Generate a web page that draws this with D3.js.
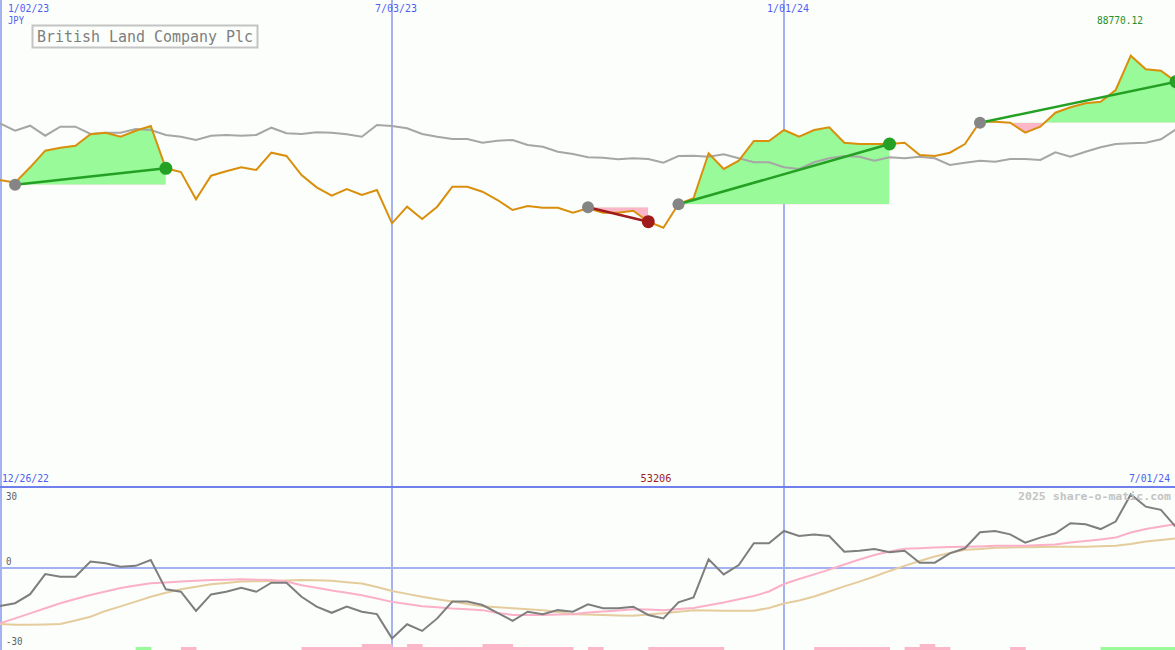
<!DOCTYPE html>
<html><head><meta charset="utf-8">
<script src="https://cdn.jsdelivr.net/npm/d3@7"></script>
<style>html,body{margin:0;padding:0;background:#fbfefb;overflow:hidden}</style>
</head><body>
<svg id="c" width="1175" height="650"></svg>
<script>
// ---- data (weekly, index 0 = first week) ----
const price = [720,717.3,732.7,749.3,752.3,754.3,765.7,767.3,763.3,769.3,774,731.7,728,700.7,724.3,728.7,732.7,730,747.3,744,
725,712.7,704.3,711,705,710,676.7,693.3,681,693.3,713.3,713.3,708.3,700,690,694,692.3,692.3,687.3,691.7,
687.3,687.3,689.3,678.3,672.3,696,701.7,746.7,731,739.3,759,759,770,763.3,770,772.7,757.3,756,756,756,
757.3,745,744,747.3,756,778.3,778.3,777.3,767.3,773.3,787.3,792.7,796.7,798.3,810,844.3,830.7,829.3,818.3];
const bench = [776.7,769.3,774.3,764.3,773.3,773.3,766,767.3,767.3,771,770,765,763.3,760,764.3,765,764.3,765,772.3,766.7,
766,767.7,767.3,765.7,763.3,775,774,771.7,766,763.3,761,761,757.3,759.3,760,755,753.3,748.3,746,742.7,
742.3,740.7,741.7,741,737.3,744,744.3,743.3,745.7,741.7,737.7,737.7,732.7,731,737.7,741.7,744,743.3,739.3,742.7,
741.7,743.3,741.7,735,737.3,739.3,738.3,741,741,740,747.7,743.3,748.3,752.7,756,756.7,757.3,760.7,770.7];
const osc = [-14.3,-13.2,-9.8,-2.3,-3.3,-3.3,2.4,1.8,0.5,0.8,3.0,-8.0,-8.9,-16.1,-9.9,-8.9,-7.4,-8.9,-5.5,-5.5,
-10.8,-14.5,-16.8,-14.5,-16.4,-17.3,-26.4,-21.1,-23.6,-18.9,-12.6,-12.6,-13.9,-16.8,-19.8,-16.4,-17.3,-15.8,-16.4,-13.6,
-15.1,-15.1,-14.5,-17.6,-18.9,-12.9,-11.0,3.3,-2.4,1.1,9.3,9.3,13.9,12.0,12.6,12.0,6.1,6.5,7.1,5.9,
6.5,2.0,2.0,5.5,7.4,13.4,13.9,12.6,9.5,11.4,13.0,16.8,16.4,14.6,17.4,27.6,23.0,21.8,15.3];
const oscFast = [-20.7,-18.9,-17.0,-15.1,-13.2,-11.6,-10.1,-8.8,-7.5,-6.6,-5.7,-5.4,-5.1,-4.8,-4.5,-4.4,-4.2,-4.4,-4.5,-5.1,
-6.5,-7.4,-8.4,-9.3,-10.2,-11.4,-12.7,-13.5,-14.3,-14.7,-15.2,-15.5,-15.8,-16.9,-17.6,-17.6,-17.6,-17.4,-17.3,-16.7,
-16.3,-15.9,-15.5,-15.6,-15.8,-15.4,-15.0,-14.0,-12.9,-11.7,-10.5,-8.8,-6.0,-4.1,-2.4,-0.6,1.3,3.2,4.9,6.2,
7.2,7.4,7.7,7.9,8.0,8.1,8.3,8.3,8.3,8.6,8.8,9.6,10.1,10.7,11.4,13.3,14.6,15.6,16.5];
const oscSlow = [-21.0,-21.3,-21.3,-21.2,-21.0,-19.7,-18.3,-16.1,-14.4,-12.6,-10.8,-9.3,-8.0,-7.0,-6.1,-5.6,-5.1,-5.0,-4.9,-4.7,
-4.5,-4.6,-4.8,-5.3,-5.8,-7.1,-8.6,-9.7,-10.8,-11.7,-12.6,-13.5,-14.3,-14.7,-15.1,-15.5,-15.8,-16.5,-17.3,-17.4,
-17.6,-17.8,-17.9,-17.4,-17.0,-16.4,-15.8,-15.9,-16.0,-16.0,-16.0,-15.0,-13.3,-12.2,-10.7,-8.8,-6.9,-5.1,-3.2,-1.1,
0.8,2.6,4.3,5.6,6.8,7.1,7.6,7.7,7.8,7.9,8.0,8.0,8.0,8.2,8.3,9.0,9.9,10.5,11.1];
const signal = [0,0,0,0,0,0,0,0,0,1,0,0,-1,0,0,0,0,0,0,0,
-1,-1,-1,-1,-2,-2,-1,-2,-1,-1,-1,-1,-2,-2,-1,-1,-1,-1,0,-1,
0,0,0,-1,-1,-1,-1,-1,0,0,0,0,0,0,-1,-1,-1,-1,-1,0,
-1,-2,-1,0,0,0,0,-1,0,0,0,0,0,1,1,1,1,1,0];
const tradeStart = [1,39,45,65];
const tradeEnd   = [11,43,59,78];
const tradeLevel = [715.3,692.7,695.7,777.3];
const gridIdx    = [26,52];
const topLabels  = ["1/02/23","7/03/23","1/01/24"];
const topLabelIdx= [0,26,52];
const oscTicks   = [30,0,-30];

// ---- drawing ----
const W=1175,H=650;
const svg=d3.select('#c');
const BG='#fbfefb';
svg.append('rect').attr('width',W).attr('height',H).attr('fill',BG);
const x=d3.scaleLinear().domain([0,78]).range([0,1176]);
const y=d3.scaleLinear().domain([413,900]).range([487,0]);
const yo=d3.scaleLinear().domain([-30,30]).range([648,488]);
const yb=d3.scaleLinear().domain([0,2]).range([650,644]);
const MONO='"DejaVu Sans Mono","Liberation Mono",monospace';

const defs=svg.append('defs');
defs.append('clipPath').attr('id','mainClip').append('rect').attr('x',0).attr('y',0).attr('width',W).attr('height',487);
defs.append('clipPath').attr('id','lowClip').append('rect').attr('x',0).attr('y',488).attr('width',W).attr('height',162);

// grid
const grid=svg.append('g');
grid.selectAll('line.v').data(gridIdx).join('line')
  .attr('x1',d=>x(d)).attr('x2',d=>x(d)).attr('y1',0).attr('y2',H)
  .attr('stroke','#a4b2f2').attr('stroke-width',2);
grid.append('line').attr('x1',1).attr('x2',1).attr('y1',0).attr('y2',H).attr('stroke','#a4b2f2').attr('stroke-width',2);

const main=svg.append('g').attr('clip-path','url(#mainClip)');

// trade fills
tradeStart.forEach((s,k)=>{
  const e=tradeEnd[k], lv=tradeLevel[k];
  const idx=d3.range(s,e+1);
  const area=d3.area().x(i=>x(i)).y0(()=>y(lv)).y1(i=>i===s?y(lv):y(price[i]));
  const ly=y(lv);
  const cg='cg'+k, cp='cp'+k;
  defs.append('clipPath').attr('id',cg).append('rect').attr('x',x(s)).attr('y',0).attr('width',x(e)-x(s)).attr('height',ly);
  defs.append('clipPath').attr('id',cp).append('rect').attr('x',x(s)).attr('y',ly).attr('width',x(e)-x(s)).attr('height',487-ly);
  main.append('path').datum(idx).attr('d',area).attr('fill','#98fa98').attr('clip-path',`url(#${cg})`);
  main.append('path').datum(idx).attr('d',area).attr('fill','#fbb6c8').attr('clip-path',`url(#${cp})`);
});

const line=d3.line().x((d,i)=>x(i)).y(d=>y(d));
main.append('path').datum(bench).attr('d',line).attr('fill','none').attr('stroke','#a6a6a6').attr('stroke-width',2);
main.append('path').datum(price).attr('d',line).attr('fill','none').attr('stroke','#d98f0c').attr('stroke-width',2);

// trade lines and markers
tradeStart.forEach((s,k)=>{
  const e=tradeEnd[k], lv=tradeLevel[k];
  const win=price[e]>=lv;
  const col=win?'#24a024':'#a01c1c';
  main.append('line').attr('x1',x(s)).attr('y1',y(lv)).attr('x2',x(e)).attr('y2',y(price[e]))
    .attr('stroke',col).attr('stroke-width',2.5);
  main.append('circle').attr('cx',x(s)).attr('cy',y(lv)).attr('r',6).attr('fill','#858585');
  main.append('circle').attr('cx',x(e)).attr('cy',y(price[e])).attr('r',6.5).attr('fill',col);
});

// lower panel
const low=svg.append('g').attr('clip-path','url(#lowClip)');
low.append('line').attr('x1',0).attr('x2',W).attr('y1',yo(0)).attr('y2',yo(0)).attr('stroke','#a4b2f2').attr('stroke-width',2);
low.selectAll('rect.sig').data(signal.map((v,i)=>({v,i})).filter(d=>d.v!==0)).join('rect')
  .attr('x',d=>x(d.i)).attr('width',d=>x(d.i+1)-x(d.i)+0.5)
  .attr('y',d=>yb(Math.abs(d.v))).attr('height',d=>650-yb(Math.abs(d.v)))
  .attr('fill',d=>d.v>0?'#98fa98':'#fbb6c8');
const lo=d3.line().x((d,i)=>x(i)).y(d=>yo(d));
low.append('path').datum(oscSlow).attr('d',lo).attr('fill','none').attr('stroke','#e4cc9c').attr('stroke-width',2);
low.append('path').datum(oscFast).attr('d',lo).attr('fill','none').attr('stroke','#fbb0c8').attr('stroke-width',2);
low.append('path').datum(osc).attr('d',lo).attr('fill','none').attr('stroke','#7e7e7e').attr('stroke-width',2);

svg.append('line').attr('x1',0).attr('x2',W).attr('y1',487).attr('y2',487).attr('stroke','#6f80ec').attr('stroke-width',2);

// texts
function txt(xp,yp,s,o){
  const t=svg.append('text').attr('x',xp).attr('y',yp).text(s)
    .attr('font-family',MONO).attr('font-size',o.size||11).attr('fill',o.fill||'#000');
  if(o.anchor) t.attr('text-anchor',o.anchor);
  if(o.len) t.attr('textLength',o.len).attr('lengthAdjust','spacingAndGlyphs');
  if(o.weight) t.attr('font-weight',o.weight);
  return t;
}
const BLUE='#4f5ef0';
topLabels.forEach((s,k)=>{
  const xi=x(topLabelIdx[k]);
  if(k===0) txt(8,12,s,{fill:BLUE,len:41});
  else txt(xi+4,12,s,{fill:BLUE,anchor:'middle',len:42});
});
txt(8,24,'JPY',{fill:BLUE,len:16});
txt(1097,24,'88770.12',{fill:'#23902a',len:46});
svg.append('rect').attr('x',32.5).attr('y',25.5).attr('width',225).attr('height',22)
  .attr('fill',BG).attr('stroke','#c4c4c4').attr('stroke-width',2);
txt(37,42,'British Land Company Plc',{fill:'#7e7e7e',size:15,len:216});

txt(2,482,'12/26/22',{fill:BLUE,len:47});
txt(656,482,'53206',{fill:'#a01c1c',anchor:'middle',len:31});
txt(1170,482,'7/01/24',{fill:BLUE,anchor:'end',len:41});
txt(1171,500,'2025 share-o-matic.com',{fill:'#c4c4c4',anchor:'end',len:153,weight:'bold'});
const tickY={30:499.5,0:565,'-30':645};
oscTicks.forEach(v=>txt(6,tickY[v],String(v),{fill:'#5e5e5e',len:String(v).length*5.5}));
</script>
</body></html>
